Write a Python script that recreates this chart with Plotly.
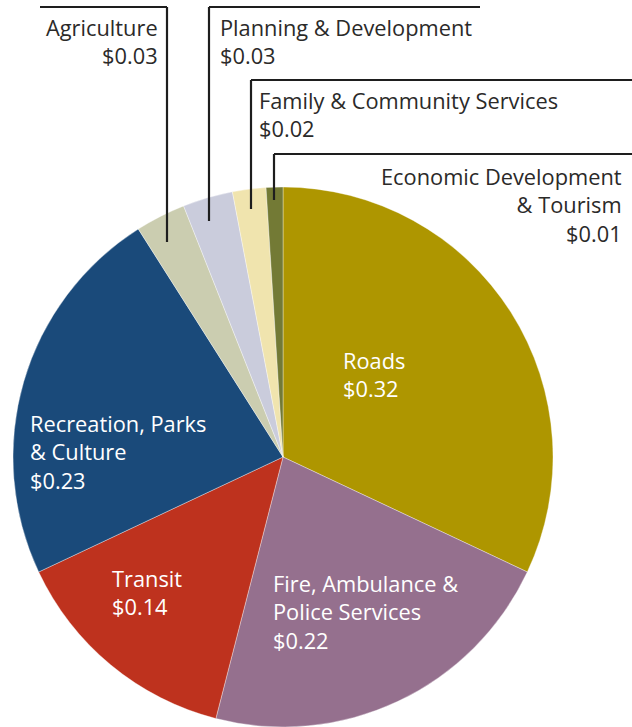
import plotly.graph_objects as go

W, H = 632, 727

# Budget share per dollar, clockwise from 12 o'clock
categories = [
    "Roads",
    "Fire, Ambulance & Police Services",
    "Transit",
    "Recreation, Parks & Culture",
    "Agriculture",
    "Planning & Development",
    "Family & Community Services",
    "Economic Development & Tourism",
]
values = [0.32, 0.22, 0.14, 0.23, 0.03, 0.03, 0.02, 0.01]
label_lines = [
    "Roads",
    "Fire, Ambulance &<br>Police Services",
    "Transit",
    "Recreation, Parks<br>& Culture",
    "Agriculture",
    "Planning & Development",
    "Family & Community Services",
    "Economic Development<br>& Tourism",
]
colors = ["#AE9600", "#95708E", "#BE321E", "#1A4A7A",
          "#CBCDB0", "#CACCDC", "#F0E4AE", "#737A35"]

FONT = "Open Sans"
FS = 21.8
DARK = "#2B2A29"

# pie geometry (pixels)
cx, cy, r = 283, 457, 270

fig = go.Figure(go.Pie(
    labels=categories,
    values=values,
    sort=False,
    direction="clockwise",
    rotation=0,
    textinfo="none",
    marker=dict(colors=colors, line=dict(color="rgba(255,255,255,0.6)", width=0.6)),
    domain=dict(x=[(cx - r) / W, (cx + r) / W], y=[0, 2 * r / H]),
    showlegend=False,
))


def px(x):
    return x / W


def py(y):
    return 1 - y / H


# label placement: (x, y of block centre, xanchor, inside?)
placement = [
    (341, 374, "left", True),
    (271, 612, "left", True),
    (110, 592, "left", True),
    (28, 452, "left", True),
    (160, 41, "right", False),
    (218, 41, "left", False),
    (257, 114, "left", False),
    (624, 205, "right", False),
]

annotations = []
for name, val, (x, y, xa, inside) in zip(label_lines, values, placement):
    annotations.append(dict(
        x=px(x), y=py(y), xref="paper", yref="paper",
        xanchor=xa, yanchor="middle", align=xa, showarrow=False,
        text=f"{name}<br>${val:.2f}",
        font=dict(family=FONT, size=FS, color="white" if inside else DARK),
    ))

# leader lines for the small slices: (corner x, corner y, far end x, tip y)
leaders = [
    (167, 7, 40, 242),
    (209, 7, 480, 221),
    (251, 80, 632, 209),
    (274, 154, 632, 200),
]
shapes = []
for x0, y0, x1, ytip in leaders:
    shapes.append(dict(type="line", xref="paper", yref="paper",
                       x0=px(x1), y0=py(y0), x1=px(x0), y1=py(y0),
                       line=dict(color="#1E1E1E", width=2.2)))
    shapes.append(dict(type="line", xref="paper", yref="paper",
                       x0=px(x0), y0=py(y0), x1=px(x0), y1=py(ytip),
                       line=dict(color="#1E1E1E", width=2.2)))

fig.update_layout(
    width=W, height=H,
    margin=dict(l=0, r=0, t=0, b=0),
    paper_bgcolor="white",
    plot_bgcolor="white",
    annotations=annotations,
    shapes=shapes,
)

fig.write_html("out.html")
